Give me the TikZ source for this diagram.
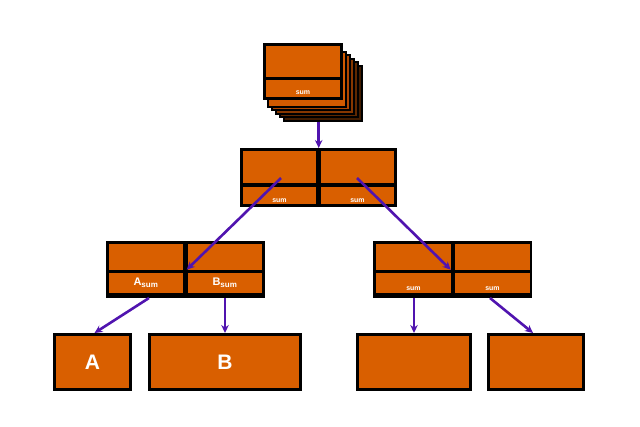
\documentclass[tikz,border=0pt]{standalone}
\usepackage{fontspec}
\setmainfont{Liberation Sans}
\usetikzlibrary{arrows.meta}
\definecolor{orng}{RGB}{217,95,0}
\definecolor{purp}{RGB}{80,20,175}
\definecolor{cardA}{RGB}{210,90,0}
\definecolor{cardB}{RGB}{175,70,0}
\definecolor{cardC}{RGB}{135,55,0}
\definecolor{cardD}{RGB}{95,40,0}
\definecolor{cardE}{RGB}{65,28,0}
\tikzset{
  outer/.style={fill=black, draw=none, inner sep=0pt, anchor=north west},
  cell/.style={fill=orng, draw=none, inner sep=0pt, anchor=north west},
  card/.style={draw=black, line width=2pt, inner sep=0pt, minimum width=78pt, minimum height=55pt},
  leaf/.style={fill=orng, draw=black, line width=3pt, inner sep=0pt, text=white, font=\bfseries\fontsize{21}{21}\selectfont},
  lbl/.style={text=white, font=\bfseries\fontsize{7}{7}\selectfont, inner sep=0pt},
  arr/.style={draw=purp, line width=2.6pt, -{Stealth[length=8pt,width=7.5pt]}}
}
\begin{document}
\begin{tikzpicture}[x=1pt,y=-1pt]
\useasboundingbox (0,0) rectangle (640,426);
% top stack
\node[card, fill=cardE] (card5) at (323,93) {};
\node[card, fill=cardD] (card4) at (319,89.5) {};
\node[card, fill=cardC] (card3) at (315,86) {};
\node[card, fill=cardB] (card2) at (311,82.5) {};
\node[card, fill=cardA] (card1) at (307,79) {};
\node[outer, minimum width=80pt, minimum height=57pt] (top) at (263,43) {};
\node[cell, minimum width=74pt, minimum height=31pt] (toptop) at (266,46) {};
\node[cell, minimum width=74pt, minimum height=17pt] (topbot) at (266,80) {};
\node[lbl] at (303,93) {sum};
% level 2
\node[outer, minimum width=157pt, minimum height=59pt] (l2) at (240,148) {};
\node[cell, minimum width=73pt, minimum height=32pt] (l2tl) at (243,151) {};
\node[cell, minimum width=73pt, minimum height=32pt] (l2tr) at (321,151) {};
\node[cell, minimum width=73pt, minimum height=17pt] (l2bl) at (243,187) {};
\node[cell, minimum width=73pt, minimum height=17pt] (l2br) at (321,187) {};
\node[lbl] at (279.5,200.5) {sum};
\node[lbl] at (357.5,200.5) {sum};
% level 3 left
\node[outer, minimum width=159pt, minimum height=57pt] (l3L) at (106,241) {};
\node[cell, minimum width=74pt, minimum height=26pt] (l3Ltl) at (109,244) {};
\node[cell, minimum width=74pt, minimum height=26pt] (l3Ltr) at (188,244) {};
\node[cell, minimum width=74pt, minimum height=20pt] (l3Lbl) at (109,273) {};
\node[cell, minimum width=74pt, minimum height=20pt] (l3Lbr) at (188,273) {};
\node[lbl, font=\bfseries\fontsize{11}{11}\selectfont] at (146,283) {A\textsubscript{\fontsize{8}{8}\selectfont sum}};
\node[lbl, font=\bfseries\fontsize{11}{11}\selectfont] at (225,283) {B\textsubscript{\fontsize{8}{8}\selectfont sum}};
% level 3 right
\node[outer, minimum width=159pt, minimum height=57pt] (l3R) at (373,241) {};
\node[cell, minimum width=75pt, minimum height=26pt] (l3Rtl) at (376,244) {};
\node[cell, minimum width=75pt, minimum height=26pt] (l3Rtr) at (455,244) {};
\node[cell, minimum width=75pt, minimum height=20pt] (l3Rbl) at (376,273) {};
\node[cell, minimum width=75pt, minimum height=20pt] (l3Rbr) at (455,273) {};
\node[lbl] at (413.5,289) {sum};
\node[lbl] at (492.5,289) {sum};
% leaves
\node[leaf, minimum width=76pt, minimum height=55pt] (A) at (92.5,362) {A};
\node[leaf, minimum width=151pt, minimum height=55pt] (B) at (225,362) {B};
\node[leaf, minimum width=113pt, minimum height=55pt] (C) at (414,362) {};
\node[leaf, minimum width=95pt, minimum height=55pt] (D) at (536,362) {};
% arrows
\coordinate (s1) at (281,178);
\coordinate (s2) at (357,178);
\coordinate (sA) at (149,298);
\coordinate (sD) at (490,298);
\draw[arr] (card5.south -| l2.north) -- (l2.north);
\draw[arr] (s1) -- ([xshift=1pt]l3L.center);
\draw[arr] (s2) -- ([xshift=-2pt]l3R.center);
\draw[arr] (sA) -- ([xshift=2pt]A.north);
\draw[arr] (B.north |- l3L.south) -- (B.north);
\draw[arr] (C.north |- l3R.south) -- (C.north);
\draw[arr] (sD) -- ([xshift=-3pt]D.north);
\end{tikzpicture}
\end{document}
